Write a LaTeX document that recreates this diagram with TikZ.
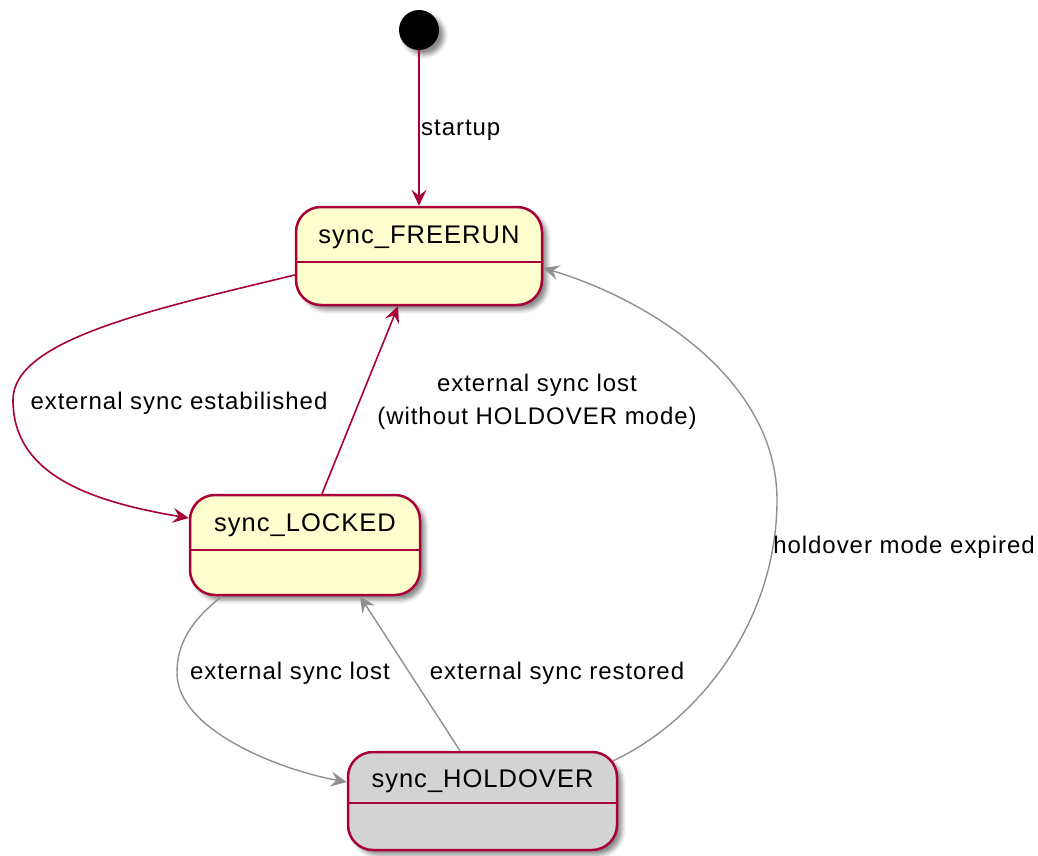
\documentclass[tikz,border=0pt]{standalone}
\usepackage{fontspec}
\setmainfont{Liberation Sans}[LetterSpace=4]
\usetikzlibrary{arrows.meta,shadows.blur}
\definecolor{umlred}{HTML}{A80036}
\definecolor{umlfill}{HTML}{FEFECE}
\definecolor{umlgray}{HTML}{D3D3D3}
\definecolor{arrgray}{HTML}{909090}
\begin{document}
\begin{tikzpicture}[x=1pt,y=-1pt,
  shadowed/.style={blur shadow={shadow xshift=5pt, shadow yshift=-5pt, shadow blur radius=4pt, shadow opacity=45}},
  statebox/.style={draw=umlred, line width=2.5pt, fill=umlfill, rounded corners=25pt,
    minimum width=#1, minimum height=98pt, inner sep=0pt, shadowed},
  startdot/.style={circle, fill=black, minimum size=40pt, inner sep=0pt, shadowed},
  statename/.style={font=\fontsize{25.5}{30}\selectfont, text=black, inner sep=0pt},
  lbl/.style={font=\fontsize{24}{33}\selectfont, text=black, inner sep=0pt, align=center},
  divider/.style={draw=umlred, line width=2.5pt},
  redarrow/.style={draw=umlred, line width=1.6pt, -{Stealth[length=16pt,width=15pt,inset=6pt]}},
  grayarrow/.style={draw=arrgray, line width=1.4pt, -{Stealth[length=16pt,width=15pt,inset=6pt]}}
]
\useasboundingbox (0,0) rectangle (1038,856);

% start
\node[startdot] (st) at (419,30) {};

% states
\node[statebox=246pt] (F) at (419,256) {};
\node[statebox=230pt, minimum height=100pt] (L) at (305,545) {};
\node[statebox=269pt, fill=umlgray] (H) at (482.5,801) {};

\draw[divider] (F.west |- 0,262) -- (F.east |- 0,262);
\draw[divider] (L.west |- 0,550) -- (L.east |- 0,550);
\draw[divider] (H.west |- 0,803) -- (H.east |- 0,803);

\node[statename] (Fn) at (419,237) {sync\_FREERUN};
\node[statename] (Ln) at (305,525) {sync\_LOCKED};
\node[statename] (Hn) at (482.5,781) {sync\_HOLDOVER};

% transitions
\draw[redarrow] (st) -- (F);
\draw[redarrow] ([yshift=-19pt]F.west) .. controls (150,310) and (13,340) .. (13,400)
  .. controls (13,470) and (80,500) .. ([yshift=27pt]L.west);
\draw[redarrow] ([xshift=17pt]L.north) -- ([xshift=-21pt]F.south);
\draw[grayarrow] ([xshift=-83pt]L.south) .. controls (185,625) and (177,650) .. (177,673)
  .. controls (177,730) and (280,770) .. ([yshift=19pt]H.west);
\draw[grayarrow] ([xshift=-22.5pt]H.north) -- ([xshift=55pt]L.south);
\draw[grayarrow] ([xshift=-5pt,yshift=-10pt]H.north east) .. controls (700,720) and (777,620) .. (777,500)
  .. controls (777,380) and (650,300) .. ([yshift=-12pt]F.east);

% labels
\node[lbl, anchor=west] (l1) at (421,130) {startup};
\node[lbl] (l2) at (179,403) {external sync estabilished};
\node[lbl] (l3) at (537,402) {external sync lost\\(without HOLDOVER mode)};
\node[lbl] (l4) at (290,673) {external sync lost};
\node[lbl] (l5) at (557,673) {external sync restored};
\node[lbl] (l6) at (904,547) {holdover mode expired};
\end{tikzpicture}
\end{document}
